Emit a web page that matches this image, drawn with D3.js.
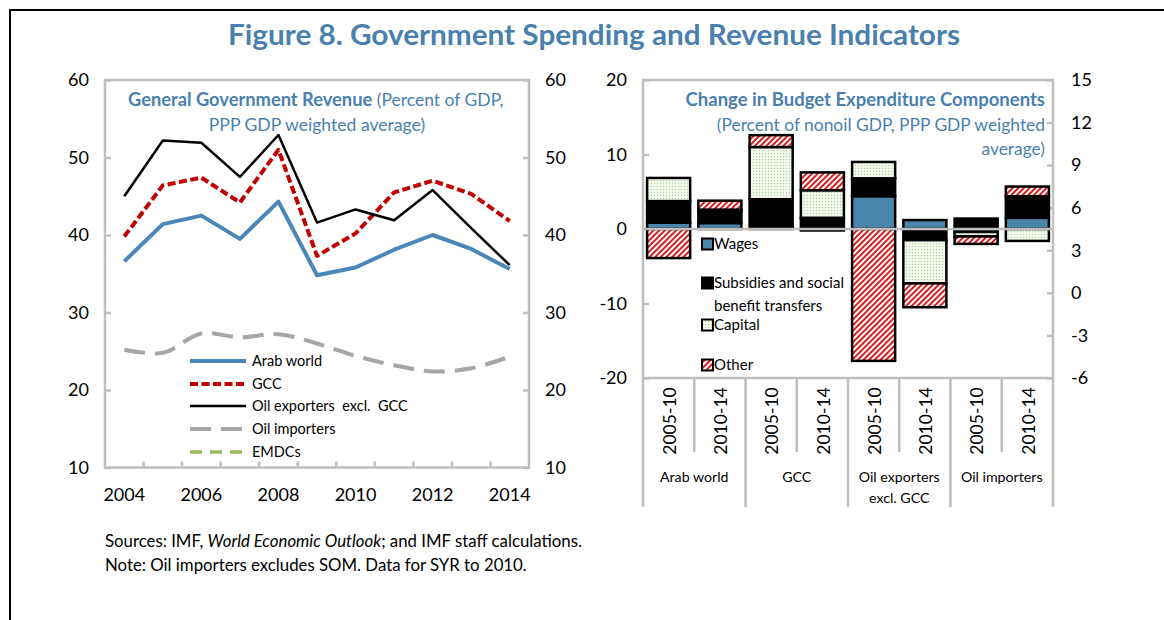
<!DOCTYPE html>
<html><head><meta charset="utf-8">
<script src="https://cdn.jsdelivr.net/npm/d3@7"></script>
<style>
body{margin:0;background:#fff}
svg{display:block}
text{font-family:Lato,'Open Sans',sans-serif;fill:#000}
</style>
</head><body>
<svg id="c" width="1164" height="620"></svg>
<script>
// ---------- data: left panel ----------
const years = [2004,2005,2006,2007,2008,2009,2010,2011,2012,2013,2014];
const yearLabels = [2004,2006,2008,2010,2012,2014];
const arabWorld = [36.6,41.4,42.5,39.5,44.3,34.8,35.8,38.1,40.0,38.2,35.6];
const gcc       = [39.8,46.4,47.4,44.2,51.0,37.3,40.2,45.5,47.0,45.3,41.8];
const oilExp    = [45.0,52.2,51.9,47.5,52.9,41.6,43.3,41.9,45.8,40.9,36.1];
const oilImp    = [25.2,24.8,27.3,26.8,27.2,26.0,24.4,23.2,22.4,22.8,24.3];
const emdcs     = []; // shown in legend only
const leftTicks = [10,20,30,40,50,60];
const seriesNames = ["Arab world","GCC","Oil exporters  excl.  GCC","Oil importers","EMDCs"];

// ---------- data: right panel ----------
const barCats   = ["AW-1","AW-2","GCC-1","GCC-2","OE-1","OE-2","OI-1","OI-2"];
const barLabels = ["2005-10","2010-14","2005-10","2010-14","2005-10","2010-14","2005-10","2010-14"];
const groupLabels = [["Arab world"],["GCC"],["Oil exporters","excl. GCC"],["Oil importers"]];
const wages     = [0.85, 0.8, 0.0,-0.2, 4.4, 1.2,-0.4, 1.5];
const subsidies = [2.9, 1.6, 4.0, 1.5, 2.4,-1.5, 1.4, 2.9];
const capital   = [3.1, 0.2, 7.0, 3.7, 2.2,-5.8,-0.6,-1.6];
const other     = [-3.9, 1.2, 1.6, 2.4,-17.7,-3.2,-1.0, 1.3];
const barLeftTicks  = [-20,-10,0,10,20];
const barRightTicks = [-6,-3,0,3,6,9,12,15];
const compNames = ["Wages","Subsidies and social|benefit transfers","Capital","Other"];

// ---------- setup ----------
const svg = d3.select("#c");
const BLUE_T = "#4a7fae";
const GRID = "#bfbfbf";
const TICK_FS = "18px";

const defs = svg.append("defs");
const hatch = defs.append("pattern").attr("id","hatch").attr("patternUnits","userSpaceOnUse")
  .attr("width",4).attr("height",4).attr("patternTransform","rotate(45)");
hatch.append("rect").attr("width",4).attr("height",4).attr("fill","#fff");
hatch.append("rect").attr("width",2).attr("height",4).attr("fill","#d81e1e");
const dots = defs.append("pattern").attr("id","dots").attr("patternUnits","userSpaceOnUse")
  .attr("width",3).attr("height",3);
dots.append("rect").attr("width",3).attr("height",3).attr("fill","#f1f7ea");
dots.append("rect").attr("width",1).attr("height",1).attr("fill","#b3d19a");

// frame
svg.append("line").attr("x1",9).attr("x2",1164).attr("y1",10).attr("y2",10).attr("stroke","#000").attr("stroke-width",2);
svg.append("line").attr("x1",10).attr("x2",10).attr("y1",9).attr("y2",620).attr("stroke","#000").attr("stroke-width",2);

// main title
svg.append("text").attr("x",594).attr("y",45).attr("text-anchor","middle")
  .style("font-size","29px").style("font-weight","bold").style("fill",BLUE_T)
  .attr("textLength",732).attr("lengthAdjust","spacingAndGlyphs")
  .text("Figure 8. Government Spending and Revenue Indicators");

// ---------- left panel ----------
const L = {x0:105, x1:529, y0:80, y1:467.5};
const x = d3.scaleBand().domain(years).range([L.x0,L.x1]).padding(0);
const y = d3.scaleLinear().domain([10,60]).range([L.y1,L.y0]);
const gL = svg.append("g");

const styleAxis = g => {
  g.select(".domain").remove();
  g.selectAll(".tick line").attr("stroke",GRID).attr("stroke-width",2.5);
  g.selectAll(".tick text").style("font-size",TICK_FS).style("font-family","Lato,'Open Sans',sans-serif").attr("fill","#000");
};
gL.append("g").attr("transform",`translate(${L.x0},0)`)
  .call(d3.axisLeft(y).tickValues(leftTicks).tickFormat(d3.format("d")).tickSizeInner(-6).tickSizeOuter(0).tickPadding(16)).call(styleAxis);
gL.append("g").attr("transform",`translate(${L.x1},0)`)
  .call(d3.axisRight(y).tickValues(leftTicks).tickFormat(d3.format("d")).tickSizeInner(-6).tickSizeOuter(0).tickPadding(16)).call(styleAxis);
gL.append("g").attr("transform",`translate(0,${L.y1})`)
  .call(d3.axisBottom(x).tickValues(yearLabels).tickSize(0).tickPadding(21)).call(styleAxis);
// category boundary ticks
gL.append("g").selectAll("line").data(years.slice(1)).join("line")
  .attr("x1",d=>x(d)).attr("x2",d=>x(d)).attr("y1",L.y1).attr("y2",L.y1-6)
  .attr("stroke",GRID).attr("stroke-width",2.5);
gL.append("rect").attr("x",L.x0).attr("y",L.y0).attr("width",L.x1-L.x0).attr("height",L.y1-L.y0)
  .attr("fill","none").attr("stroke",GRID).attr("stroke-width",2.5);

// title
const lt = gL.append("text").attr("x",128).attr("y",106).style("fill",BLUE_T);
lt.append("tspan").style("font-weight","bold").style("font-size","18.3px").text("General Government Revenue");
lt.append("tspan").style("font-size","17.5px").text(" (Percent of GDP,");
gL.append("text").attr("x",(L.x0+L.x1)/2).attr("y",131).attr("text-anchor","middle").style("font-size","17.6px").style("fill",BLUE_T)
  .text("PPP GDP weighted average)");

const lineSeries = [
  {name:seriesNames[0], values:arabWorld, color:"#4a86b8", w:4, dash:null, curve:d3.curveLinear},
  {name:seriesNames[1], values:gcc, color:"#c00000", w:4, dash:"8,3.5", curve:d3.curveLinear},
  {name:seriesNames[2], values:oilExp, color:"#000", w:2.5, dash:null, curve:d3.curveLinear},
  {name:seriesNames[3], values:oilImp, color:"#a6a6a6", w:4, dash:"21,10", curve:d3.curveCatmullRom},
  {name:seriesNames[4], values:emdcs, color:"#9bbb59", w:3.5, dash:"12,8", curve:d3.curveLinear}
];
const plotOrder = [3,0,1,2];
plotOrder.forEach(i=>{
  const s = lineSeries[i];
  const line = d3.line().x((d,j)=>x(years[j])+x.bandwidth()/2).y(d=>y(d)).curve(s.curve);
  gL.append("path").datum(s.values).attr("d",line).attr("fill","none")
    .attr("stroke",s.color).attr("stroke-width",s.w).attr("stroke-dasharray",s.dash)
    .attr("stroke-linejoin","round");
});
// legend
const legY = [361,384,406,429,452];
lineSeries.forEach((s,i)=>{
  gL.append("line").attr("x1",190).attr("x2",246).attr("y1",legY[i]).attr("y2",legY[i])
    .attr("stroke",s.color).attr("stroke-width",s.w).attr("stroke-dasharray",s.dash);
  gL.append("text").attr("x",252).attr("y",legY[i]).attr("dy","0.35em").style("font-size","14.5px")
    .style("white-space","pre").text(s.name);
});

// footnotes
const fn = svg.append("text").attr("x",105).attr("y",547).style("font-size","16.8px");
fn.append("tspan").text("Sources: IMF, ");
fn.append("tspan").style("font-style","italic").text("World Economic Outlook");
fn.append("tspan").text("; and IMF staff calculations.");
svg.append("text").attr("x",105).attr("y",571).style("font-size","16.8px")
  .text("Note: Oil importers excludes SOM. Data for SYR to 2010.");

// ---------- right panel ----------
const R = {x0:643, x1:1053, y0:80, y1:378};
const xc = d3.scaleBand().domain(barCats).range([R.x0,R.x1]).padding(0);
const xb = d3.scaleBand().domain(barCats).range([R.x0,R.x1]).paddingInner(0.16).paddingOuter(0.08);
const yb = d3.scaleLinear().domain([-20,20]).range([R.y1,R.y0]);
const yb2 = d3.scaleLinear().domain([-6,15]).range([R.y1,R.y0]);
const gR = svg.append("g");

gR.append("g").attr("transform",`translate(${R.x0},0)`)
  .call(d3.axisLeft(yb).tickValues(barLeftTicks).tickFormat(d=>String(d)).tickSizeInner(-6).tickSizeOuter(0).tickPadding(16)).call(styleAxis);
gR.append("g").attr("transform",`translate(${R.x1},0)`)
  .call(d3.axisRight(yb2).tickValues(barRightTicks).tickFormat(d=>String(d)).tickSizeInner(-6).tickSizeOuter(0).tickPadding(18)).call(styleAxis);

// stacked bars
const comps = [
  {name:"Wages", values:wages, fill:"#4a86ab"},
  {name:"Subsidies", values:subsidies, fill:"#000"},
  {name:"Capital", values:capital, fill:"url(#dots)"},
  {name:"Other", values:other, fill:"url(#hatch)"}
];
const segs = [];
barCats.forEach((c,i)=>{
  let pos=0, neg=0;
  comps.forEach(cp=>{
    const v = cp.values[i];
    if (v===0) return;
    let a,b;
    if (v>0){a=pos;b=pos+v;pos=b;} else {a=neg;b=neg+v;neg=b;}
    segs.push({cat:c, a, b, fill:cp.fill});
  });
});
gR.append("g").selectAll("rect").data(segs).join("rect")
  .attr("x",d=>xb(d.cat)).attr("width",xb.bandwidth())
  .attr("y",d=>yb(Math.max(d.a,d.b))).attr("height",d=>Math.abs(yb(d.a)-yb(d.b)))
  .attr("fill",d=>d.fill).attr("stroke","#000").attr("stroke-width",2.5);

// zero line and border
gR.append("line").attr("x1",R.x0).attr("x2",R.x1).attr("y1",yb(0)).attr("y2",yb(0)).attr("stroke",GRID).attr("stroke-width",2.5);
gR.append("rect").attr("x",R.x0).attr("y",R.y0).attr("width",R.x1-R.x0).attr("height",R.y1-R.y0)
  .attr("fill","none").attr("stroke",GRID).attr("stroke-width",2.5);

// category axis below
const bounds = barCats.map(c=>xc(c)).concat([R.x1]);
gR.append("g").selectAll("line").data(bounds).join("line")
  .attr("x1",d=>d).attr("x2",d=>d).attr("y1",R.y1)
  .attr("y2",(d,i)=> i%2===0 ? 507 : 452)
  .attr("stroke",GRID).attr("stroke-width",2.5);
gR.append("g").selectAll("text").data(barCats).join("text")
  .attr("transform",(d)=>`translate(${xc(d)+xc.bandwidth()/2+1},421) rotate(-90)`)
  .attr("text-anchor","middle").attr("dy","0.35em").style("font-size","17.5px")
  .text((d,i)=>barLabels[i]);
groupLabels.forEach((lines,gi)=>{
  const cx = xc(barCats[gi*2]) + xc.bandwidth();
  lines.forEach((t,li)=>{
    gR.append("text").attr("x",cx).attr("y",482+li*21).attr("text-anchor","middle").style("font-size","14.2px").text(t);
  });
});

// right title
const rtx = 1045;
gR.append("text").attr("x",rtx).attr("y",106).attr("text-anchor","end").style("font-size","18.5px").style("font-weight","bold").style("fill",BLUE_T)
  .text("Change in Budget Expenditure Components");
gR.append("text").attr("x",rtx).attr("y",131).attr("text-anchor","end").style("font-size","17.4px").style("fill",BLUE_T)
  .text("(Percent of nonoil GDP, PPP GDP weighted");
gR.append("text").attr("x",rtx).attr("y",155).attr("text-anchor","end").style("font-size","17.4px").style("fill",BLUE_T)
  .text("average)");

// right legend
const rLeg = [{y:244},{y:283},{y:325},{y:365}];
comps.forEach((cp,i)=>{
  gR.append("rect").attr("x",702).attr("y",rLeg[i].y-5.5).attr("width",11).attr("height",11)
    .attr("fill",cp.fill).attr("stroke","#000").attr("stroke-width",2);
  const parts = compNames[i].split("|");
  parts.forEach((p,k)=>{
    gR.append("text").attr("x",714).attr("y",rLeg[i].y+k*22.5).attr("dy","0.35em").style("font-size","15px").text(p);
  });
});
</script>
</body></html>
